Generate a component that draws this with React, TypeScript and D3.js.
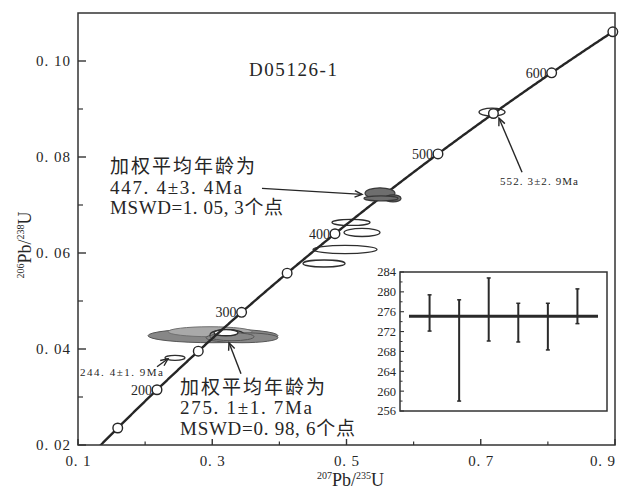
import React from 'react';
import * as d3 from 'd3';

const W = 624;
const H = 493;

// decay constants (per year)
const LAMBDA238 = 1.55125e-10;
const LAMBDA235 = 9.8485e-10;

// concordia age markers (Ma)
const markerAges = [150, 200, 250, 300, 350, 400, 450, 500, 550, 600, 650];
const labeledAges = [200, 300, 400, 500, 600];
const curveStartAge = 120;
const curveEndAge = 650;

// axes
const xTickValues = [0.1, 0.3, 0.5, 0.7, 0.9];
const xTickLabels = ['0. 1', '0. 3', '0. 5', '0. 7', '0. 9'];
const xMinorValues = [0.2, 0.4, 0.6, 0.8];
const yTickValues = [0.02, 0.04, 0.06, 0.08, 0.1];
const yTickLabels = ['0. 02', '0. 04', '0. 06', '0. 08', '0. 10'];
const yMinorValues = [0.03, 0.05, 0.07, 0.09];

// analysis ellipses: centre (207Pb/235U, 206Pb/238U) and half-axes
const ellipseKind = [
  'grey', 'light', 'grey', 'outline', 'grey', 'white',
  'white',
  'dark', 'dark', 'dark',
  'white', 'white', 'white', 'white',
  'white',
];
const ellipseX = [
  0.3011, 0.2967, 0.3443, 0.322, 0.3294, 0.3205,
  0.2445,
  0.5499, 0.5693, 0.5514,
  0.5067, 0.5231, 0.4978, 0.4665,
  0.7168,
];
const ellipseY = [
  0.04277, 0.0436, 0.04235, 0.04298, 0.04256, 0.04339,
  0.03817,
  0.07243, 0.07138, 0.07138,
  0.06637, 0.06428, 0.06073, 0.05781,
  0.08935,
];
const ellipseSx = [
  0.0968, 0.0626, 0.0536, 0.0253, 0.0328, 0.0179,
  0.0149,
  0.0223, 0.0119, 0.0253,
  0.0283, 0.0268, 0.0477, 0.0313,
  0.0194,
];
const ellipseSy = [
  0.00146, 0.00104, 0.00104, 0.00104, 0.00084, 0.00063,
  0.00052,
  0.00115, 0.00073, 0.00052,
  0.00063, 0.00084, 0.00084, 0.00073,
  0.00084,
];

// annotation arrows (data units)
const arrowFromX = [0.3741, 0.3428, 0.2177, 0.7615];
const arrowFromY = [0.07347, 0.03483, 0.03629, 0.07681];
const arrowToX = [0.5231, 0.325, 0.2341, 0.7272];
const arrowToY = [0.07222, 0.0413, 0.03796, 0.08809];

// annotation texts
const titleText = 'D05126-1';
const upperBlock = ['加权平均年龄为', '447. 4±3. 4Ma', 'MSWD=1. 05, 3个点'];
const lowerBlock = ['加权平均年龄为', '275. 1±1. 7Ma', 'MSWD=0. 98, 6个点'];
const blockWidths = [145, 132, 173];
const smallLabels = ['244. 4±1. 9Ma', '552. 3±2. 9Ma'];

// inset: weighted mean plot
const insetMean = 275.1;
const insetTop = [279.4, 278.4, 282.8, 277.7, 277.7, 280.6];
const insetBottom = [272.1, 258.0, 270.1, 269.9, 268.3, 273.6];
const insetTicks = [256, 260, 264, 268, 272, 276, 280, 284];
const insetMinor = [258, 262, 266, 270, 274, 278, 282];

const SERIF = "'Liberation Serif', 'Times New Roman', 'DejaVu Serif', 'Noto Sans CJK SC', serif";
const INK = '#262626';

const kindStyle: Record<string, { fill: string; stroke: string; sw: number }> = {
  grey: { fill: '#878787', stroke: '#555', sw: 1 },
  light: { fill: '#a9a9a9', stroke: '#707070', sw: 1 },
  outline: { fill: '#959595', stroke: '#2e2e2e', sw: 1.2 },
  dark: { fill: '#6e6e6e', stroke: '#383838', sw: 1.2 },
  white: { fill: '#ffffff', stroke: '#2e2e2e', sw: 1.3 },
};

function Arrow({ x1, y1, x2, y2 }: { x1: number; y1: number; x2: number; y2: number }) {
  const ang = Math.atan2(y2 - y1, x2 - x1);
  const L = 8;
  const a = 0.42;
  const p1 = [x2 - L * Math.cos(ang - a), y2 - L * Math.sin(ang - a)];
  const p2 = [x2 - L * Math.cos(ang + a), y2 - L * Math.sin(ang + a)];
  return (
    <g stroke={INK} strokeWidth={1.4} fill="none">
      <line x1={x1} y1={y1} x2={x2} y2={y2} />
      <polyline points={`${p1[0]},${p1[1]} ${x2},${y2} ${p2[0]},${p2[1]}`} strokeLinejoin="miter" />
    </g>
  );
}

export default function App() {
  const left = 78, right = 615, top = 13, bottom = 445;
  const x = d3.scaleLinear().domain([0.1, 0.9]).range([left, right]);
  const y = d3.scaleLinear().domain([0.02, 0.11]).range([bottom, top]);

  const conc = (t: number) => ({
    r75: Math.exp(LAMBDA235 * t * 1e6) - 1,
    r68: Math.exp(LAMBDA238 * t * 1e6) - 1,
  });
  const curveAges = d3.range(curveStartAge, curveEndAge + 0.5, 1);
  const line = d3
    .line<number>()
    .x((t) => x(conc(t).r75))
    .y((t) => y(conc(t).r68));

  // inset scales
  const ix = d3.scaleLinear().domain([0, 7]).range([400, 607]);
  const iy = d3.scaleLinear().domain([256, 284]).range([411, 272]);

  const textLine = (s: string, px: number, py: number, w: number, fs: number, key: string) => (
    <text key={key} x={px} y={py} fontSize={fs} fontFamily={SERIF} fill={INK} textLength={w} lengthAdjust="spacing">
      {s}
    </text>
  );

  const ellipseEl = (i: number) => {
    const cx = ellipseX[i];
    const st = kindStyle[ellipseKind[i]];
    return (
      <ellipse
        key={i}
        cx={x(cx)}
        cy={y(ellipseY[i])}
        rx={x(cx + ellipseSx[i]) - x(cx)}
        ry={y(ellipseY[i]) - y(ellipseY[i] + ellipseSy[i])}
        fill={st.fill}
        stroke={st.stroke}
        strokeWidth={st.sw}
      />
    );
  };
  const idx = ellipseX.map((_, i) => i);

  return (
    <svg
      width={W}
      height={H}
      viewBox={`0 0 ${W} ${H}`}
      style={{ position: 'absolute', left: 0, top: 0, display: 'block', background: '#fff' }}
    >
      <defs>
        <clipPath id="plotClip">
          <rect x={left} y={top} width={right - left} height={bottom - top} />
        </clipPath>
      </defs>
      <rect x={0} y={0} width={W} height={H} fill="#fff" />

      {/* ellipses below the curve */}
      <g clipPath="url(#plotClip)">
        {idx.filter((i) => ellipseKind[i] !== 'dark').map(ellipseEl)}
        {/* concordia */}
        <path d={line(curveAges) || ''} fill="none" stroke={INK} strokeWidth={2.4} />
      </g>
      {markerAges.map((t) => (
        <circle key={t} cx={x(conc(t).r75)} cy={y(conc(t).r68)} r={4.8} fill="#fff" stroke={INK} strokeWidth={1.4} />
      ))}
      {/* weighted-mean group drawn over the curve */}
      <g clipPath="url(#plotClip)">{idx.filter((i) => ellipseKind[i] === 'dark').map(ellipseEl)}</g>
      {labeledAges.map((t) => (
        <text
          key={t}
          x={x(conc(t).r75) - 5}
          y={y(conc(t).r68)}
          dy="0.35em"
          textAnchor="end"
          fontSize={14}
          fontFamily={SERIF}
          fill={INK}
        >
          {t}
        </text>
      ))}

      {/* frame */}
      <rect x={left} y={top} width={right - left} height={bottom - top} fill="none" stroke="#333" strokeWidth={1.5} />
      {/* y ticks */}
      {yTickValues.map((v, i) => (
        <g key={v}>
          <line x1={left} x2={left + 8} y1={y(v)} y2={y(v)} stroke="#333" strokeWidth={1.4} />
          <text
            x={70}
            y={y(v)}
            dy="0.35em"
            textAnchor="end"
            fontSize={15}
            fontFamily={SERIF}
            fill={INK}
            textLength={34}
            lengthAdjust="spacing"
          >
            {yTickLabels[i]}
          </text>
        </g>
      ))}
      {yMinorValues.map((v) => (
        <line key={v} x1={left} x2={left + 5} y1={y(v)} y2={y(v)} stroke="#333" strokeWidth={1.2} />
      ))}
      {/* x ticks */}
      {xTickValues.map((v, i) => {
        const px = x(v);
        const overflow = px + 13 > W;
        return (
          <g key={v}>
            <line x1={px} x2={px} y1={bottom} y2={bottom - 6} stroke="#333" strokeWidth={1.4} />
            <text
              x={px}
              y={466}
              textAnchor={overflow ? 'end' : 'middle'}
              fontSize={15}
              fontFamily={SERIF}
              fill={INK}
              textLength={25}
              lengthAdjust="spacing"
            >
              {xTickLabels[i]}
            </text>
          </g>
        );
      })}
      {xMinorValues.map((v) => (
        <line key={v} x1={x(v)} x2={x(v)} y1={bottom} y2={bottom - 3.5} stroke="#333" strokeWidth={1.2} />
      ))}

      {/* axis titles */}
      <text x={(left + right) / 2 + 4} y={486} textAnchor="middle" fontFamily={SERIF} fill={INK}>
        <tspan fontSize={10} dy={-7}>207</tspan>
        <tspan fontSize={18} dy={7}>Pb/</tspan>
        <tspan fontSize={10} dy={-7}>235</tspan>
        <tspan fontSize={18} dy={7}>U</tspan>
      </text>
      <text transform={`translate(31, ${(top + bottom) / 2 + 16}) rotate(-90)`} textAnchor="middle" fontFamily={SERIF} fill={INK}>
        <tspan fontSize={10} dy={-7}>206</tspan>
        <tspan fontSize={18} dy={7}>Pb/</tspan>
        <tspan fontSize={10} dy={-7}>238</tspan>
        <tspan fontSize={18} dy={7}>U</tspan>
      </text>

      {/* title */}
      <text x={x(0.3547)} y={y(0.09687)} fontSize={19} fontFamily={SERIF} fill={INK} textLength={88} lengthAdjust="spacing">
        {titleText}
      </text>

      {/* annotation blocks */}
      {upperBlock.map((s, i) =>
        textLine(s, x(0.1477), y(0.07661) + i * 20.5, blockWidths[i], 19, 'u' + i)
      )}
      {lowerBlock.map((s, i) =>
        textLine(s, x(0.252), y(0.03065) + i * 20.5, blockWidths[i] + (i === 2 ? 2 : 0), 19, 'l' + i)
      )}
      <text x={x(0.103)} y={y(0.03441)} fontSize={11} fontFamily={SERIF} fill={INK} textLength={83} lengthAdjust="spacing">
        {smallLabels[0]}
      </text>
      <text x={x(0.7287)} y={y(0.0741)} fontSize={11} fontFamily={SERIF} fill={INK} textLength={78} lengthAdjust="spacing">
        {smallLabels[1]}
      </text>

      {/* arrows */}
      {arrowFromX.map((fx, i) => (
        <Arrow key={i} x1={x(fx)} y1={y(arrowFromY[i])} x2={x(arrowToX[i])} y2={y(arrowToY[i])} />
      ))}

      {/* inset */}
      <g>
        <rect x={400} y={272} width={207} height={139} fill="#fff" stroke="#333" strokeWidth={1.5} />
        {insetTicks.map((v) => (
          <g key={v}>
            <line x1={400} x2={404} y1={iy(v)} y2={iy(v)} stroke="#333" strokeWidth={1.1} />
            <text x={396} y={iy(v)} dy="0.35em" textAnchor="end" fontSize={12.5} fontFamily={SERIF} fill={INK}>
              {v}
            </text>
          </g>
        ))}
        {insetMinor.map((v) => (
          <line key={v} x1={400} x2={402.5} y1={iy(v)} y2={iy(v)} stroke="#333" strokeWidth={1} />
        ))}
        <line x1={409} x2={598} y1={iy(insetMean)} y2={iy(insetMean)} stroke="#2a2a2a" strokeWidth={3} />
        {insetTop.map((tv, i) => {
          const cx = ix(i + 1);
          return (
            <g key={i} stroke="#2a2a2a">
              <line x1={cx} x2={cx} y1={iy(tv)} y2={iy(insetBottom[i])} strokeWidth={2} />
              <line x1={cx - 2} x2={cx + 2} y1={iy(tv)} y2={iy(tv)} strokeWidth={1.5} />
              <line x1={cx - 2} x2={cx + 2} y1={iy(insetBottom[i])} y2={iy(insetBottom[i])} strokeWidth={1.5} />
            </g>
          );
        })}
      </g>
    </svg>
  );
}
